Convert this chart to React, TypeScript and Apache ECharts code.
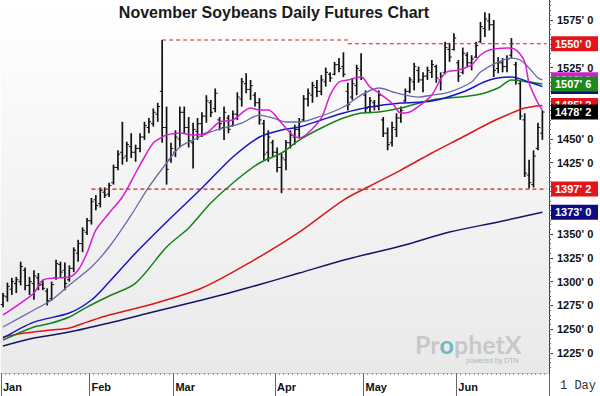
import React, { useEffect, useRef } from 'react';
import * as echarts from 'echarts';

// ---------- data ----------
const monthNames = ['Jan', 'Feb', 'Mar', 'Apr', 'May', 'Jun'];
const monthBars = [20, 19, 23, 20, 21, 20];

const opens = [
  1276, 1284, 1292, 1298, 1300, 1312, 1296, 1298, 1304, 1297, 1290, 1282, 1304, 1318, 1312, 1302, 1314, 1330, 1340, 1352,
  1364, 1386, 1382, 1394, 1392, 1404, 1420, 1436, 1432, 1442, 1436, 1440, 1452, 1462, 1466, 1476, 1500, 1462, 1428,
  1436, 1450, 1478, 1462, 1446, 1458, 1466, 1474, 1488, 1482, 1470, 1462, 1472, 1464, 1476, 1492, 1508, 1502, 1496, 1488, 1466, 1436, 1446,
  1436, 1420, 1428, 1446, 1452, 1460, 1470, 1492, 1496, 1504, 1500, 1510, 1518, 1518, 1528, 1526, 1500, 1494, 1506, 1522,
  1496, 1484, 1488, 1484, 1470, 1456, 1446, 1460, 1472, 1490, 1500, 1510, 1522, 1512, 1516, 1520, 1526, 1512, 1520, 1544, 1544,
  1530, 1520, 1538, 1530, 1536, 1552, 1566, 1574, 1570, 1524, 1530, 1526, 1538, 1528, 1508, 1470, 1412, 1402, 1440, 1456,
];
const highs = [
  1288, 1299, 1304, 1305, 1321, 1315, 1305, 1312, 1309, 1302, 1293, 1300, 1323, 1321, 1320, 1317, 1336, 1344, 1357, 1367,
  1388, 1391, 1399, 1399, 1404, 1423, 1438, 1468, 1447, 1456, 1444, 1456, 1468, 1472, 1482, 1488, 1554, 1484, 1446,
  1459, 1484, 1484, 1473, 1467, 1472, 1478, 1496, 1491, 1503, 1473, 1484, 1475, 1480, 1499, 1514, 1519, 1512, 1499, 1493, 1470, 1459, 1449,
  1441, 1435, 1449, 1459, 1465, 1472, 1496, 1503, 1510, 1512, 1517, 1525, 1520, 1531, 1535, 1541, 1509, 1514, 1528, 1540,
  1501, 1494, 1491, 1501, 1473, 1462, 1468, 1477, 1484, 1503, 1515, 1530, 1526, 1520, 1526, 1533, 1528, 1520, 1552, 1551, 1561,
  1533, 1546, 1541, 1538, 1552, 1573, 1583, 1582, 1575, 1536, 1535, 1538, 1556, 1531, 1512, 1477, 1428, 1438, 1467, 1480,
];
const lows = [
  1273, 1279, 1286, 1288, 1296, 1291, 1286, 1281, 1291, 1291, 1275, 1280, 1302, 1304, 1291, 1300, 1310, 1321, 1331, 1349,
  1360, 1375, 1378, 1388, 1389, 1402, 1417, 1423, 1426, 1430, 1426, 1436, 1449, 1456, 1463, 1468, 1446, 1402, 1425,
  1431, 1441, 1456, 1441, 1419, 1449, 1452, 1467, 1473, 1478, 1459, 1449, 1456, 1463, 1470, 1484, 1498, 1491, 1484, 1465, 1428, 1426, 1431,
  1415, 1393, 1417, 1440, 1444, 1451, 1468, 1484, 1488, 1494, 1496, 1505, 1510, 1517, 1520, 1515, 1480, 1491, 1496, 1512,
  1477, 1477, 1480, 1480, 1452, 1438, 1442, 1452, 1467, 1489, 1498, 1501, 1509, 1499, 1512, 1514, 1509, 1501, 1518, 1531, 1543,
  1510, 1518, 1526, 1522, 1535, 1551, 1557, 1564, 1515, 1519, 1520, 1520, 1535, 1507, 1470, 1410, 1398, 1399, 1438, 1449,
];
const closes = [
  1285, 1295, 1300, 1302, 1316, 1296, 1300, 1306, 1296, 1293, 1280, 1297, 1319, 1310, 1298, 1314, 1333, 1340, 1354, 1364,
  1384, 1380, 1396, 1391, 1401, 1420, 1434, 1430, 1444, 1436, 1440, 1452, 1464, 1468, 1478, 1484, 1462, 1418, 1440,
  1452, 1478, 1462, 1448, 1460, 1466, 1474, 1490, 1478, 1498, 1466, 1478, 1460, 1476, 1494, 1510, 1502, 1506, 1488, 1470, 1434, 1452, 1436,
  1420, 1430, 1446, 1454, 1460, 1468, 1492, 1498, 1506, 1500, 1512, 1520, 1514, 1528, 1524, 1518, 1486, 1508, 1524, 1514,
  1482, 1490, 1484, 1496, 1456, 1444, 1462, 1472, 1480, 1500, 1512, 1526, 1512, 1516, 1522, 1528, 1514, 1516, 1546, 1536, 1556,
  1516, 1540, 1530, 1534, 1548, 1568, 1576, 1570, 1522, 1530, 1526, 1534, 1550, 1512, 1474, 1414, 1404, 1432, 1462, 1478.25,
];

// moving averages: [bar index, price]
const maFast: [number, number][] = [
  [0, 1265], [4, 1277.5], [7, 1288], [9, 1301.7], [12, 1303.8], [15, 1304.8], [17, 1312.2], [19, 1330.1], [21, 1354.2],
  [24, 1372.1], [27, 1389], [30, 1414.2], [32, 1431], [34, 1445.7], [36, 1452], [37, 1454.1], [40, 1456.2], [43, 1454.1],
  [46, 1456.2], [49, 1467.8], [52, 1469.9], [56, 1482.5], [58, 1480.4], [60, 1480.4], [63, 1466.7], [65, 1456.2], [67, 1451],
  [69, 1456.2], [72, 1472], [74, 1496.1], [76, 1509.8], [78, 1511.9], [81, 1515.1], [83, 1504.6], [85, 1498.3], [88, 1487.7],
  [90, 1477.2], [92, 1478.3], [95, 1487.7], [97, 1496.1], [100, 1519.3], [103, 1522.4], [106, 1527.7], [108, 1538.2],
  [110, 1543.5], [114, 1545.6], [116, 1543.5], [118, 1530.8], [119, 1508.8], [121, 1487.7], [122, 1480.4],
];
const maSlate: [number, number][] = [
  [0, 1252.3], [7, 1270.2], [11, 1280.7], [15, 1296.5], [20, 1315.4], [24, 1336.4], [29, 1370], [33, 1399.5], [37, 1424.7],
  [40, 1441.5], [43, 1448.8], [47, 1457.3], [54, 1466.7], [58, 1475.1], [61, 1472], [64, 1467.8], [67, 1467.8], [72, 1474.1],
  [77, 1483.5], [81, 1496.1], [85, 1503.5], [89, 1498.3], [94, 1494], [97, 1496.1], [101, 1499.3], [106, 1509.8],
  [108, 1520.3], [112, 1530.8], [115, 1535], [117, 1532.9], [119, 1524.5], [121, 1514], [122, 1512.1],
];
const maBlue: [number, number][] = [
  [0, 1240.7], [7, 1257.5], [15, 1267], [20, 1280.7], [24, 1299.6], [30, 1330.1], [37, 1362.7], [45, 1398.4], [52, 1431],
  [58, 1452], [63, 1459.4], [67, 1462.5], [72, 1469.9], [77, 1477.2], [83, 1483.5], [90, 1487.7], [97, 1489.8], [104, 1499.3],
  [110, 1511.9], [115, 1515], [119, 1509.8], [122, 1505],
];
const maGreen: [number, number][] = [
  [0, 1238.6], [7, 1252.3], [11, 1256.5], [15, 1262.8], [19, 1273.3], [24, 1284.9], [30, 1298.5], [37, 1336.4], [42, 1356.4],
  [47, 1382.6], [52, 1403.7], [58, 1424.7], [63, 1435.2], [67, 1448.8], [72, 1461.5], [77, 1472], [81, 1477.2], [85, 1478.3],
  [90, 1482.5], [97, 1490.9], [107, 1496.1], [112, 1503.5], [115, 1511.9], [119, 1509.8], [122, 1507.75],
];
const maRed: [number, number][] = [
  [0, 1241.8], [5, 1246], [11, 1249.1], [15, 1251.2], [19, 1257.5], [24, 1264.9], [33, 1275.4], [45, 1293.3], [56, 1320.6],
  [67, 1352.1], [77, 1385.8], [83, 1400.5], [90, 1417.3], [97, 1435.2], [104, 1452], [110, 1466.7], [114, 1475.1],
  [118, 1482.5], [122, 1485.25],
];
const maNavy: [number, number][] = [
  [0, 1232.3], [7, 1240.7], [15, 1247], [24, 1256.5], [33, 1267], [45, 1280.7], [56, 1294.3], [67, 1309], [78, 1323.8],
  [90, 1337.4], [101, 1352.2], [112, 1362.7], [122, 1373],
];

// ticks every 25 cents; labels only where the reference shows them (others sit under value boxes)
const yTicks = [1225, 1250, 1275, 1300, 1325, 1350, 1375, 1400, 1425, 1450, 1475, 1500, 1525, 1550, 1575];
const yLabelTicks = [1225, 1250, 1275, 1300, 1325, 1350, 1425, 1450, 1525, 1575];
const yMin = 1204;
const yMax = 1596;

// dashed support / resistance lines: [start bar, end bar, price]
const spikeLine = [36, 78, 1554];
const resistanceLine = [78, 123, 1550];
const supportLine = [20, 123, 1397.25];

const boxValues = [1550, 1397.25, 1373, 1512.125, 1505, 1507.75, 1485.25, 1478.25];
const boxColors = ['#e3141c', '#e3141c', '#0c0c82', '#d21fd2', '#10107a', '#1e8a1e', '#e3141c', '#000000'];

const fmtPrice = (v: number) => {
  const w = Math.floor(v + 1e-9);
  const e = Math.round((v - w) * 8);
  return `${w}' ${e}`;
};

export default function App() {
  const ref = useRef<HTMLDivElement>(null);

  useEffect(() => {
    if (!ref.current) return;
    const chart = echarts.init(ref.current, null, { renderer: 'svg' });

    const categories: string[] = [];
    const monthStarts: number[] = [];
    monthBars.forEach((n, m) => {
      monthStarts.push(categories.length);
      for (let k = 0; k < n; k++) categories.push(`${monthNames[m]} ${k + 1}`);
    });
    categories.push(''); // one empty slot at the right
    const startSet = new Set(monthStarts);

    const minorTicks: number[] = [];
    for (let v = 1210; v < yMax; v += 5) minorTicks.push(v);

    const ohlc = opens.map((o, i) => [i, o, highs[i], lows[i], closes[i]]);

    const font = 'Liberation Sans';

    const maSeries = (data: [number, number][], color: string, width: number) => ({
      type: 'line',
      data,
      symbol: 'none',
      showSymbol: false,
      smooth: 0.3,
      lineStyle: { color, width },
      z: 3,
      silent: true,
    });

    const dashSeries = (seg: number[]) => ({
      type: 'line',
      data: [
        [seg[0], seg[2]],
        [seg[1], seg[2]],
      ],
      symbol: 'none',
      silent: true,
      z: 4,
      lineStyle: { color: '#d41e1e', width: 1.1, type: [4, 3] },
    });

    const markData: any[] = boxValues.map((v, k) => ({
      yAxis: v,
      lineStyle: { color: 'rgba(0,0,0,0)', width: 0 },
      label: {
        show: true,
        position: 'end',
        distance: 2,
        formatter: fmtPrice(v),
        backgroundColor: boxColors[k],
        color: '#ffffff',
        fontFamily: font,
        fontWeight: 'bold',
        fontSize: 11,
        width: 39,
        padding: [2, 4, 1, 4],
        lineHeight: 12,
      },
    }));

    const option: any = {
      animation: false,
      backgroundColor: '#ffffff',
      grid: {
        left: 0,
        right: 51,
        top: 0,
        bottom: 23,
        show: true,
        borderWidth: 0,
        backgroundColor: new echarts.graphic.LinearGradient(0, 0, 0, 1, [
          { offset: 0, color: '#ffffff' },
          { offset: 1, color: '#e9e9e9' },
        ]),
      },
      xAxis: [
        {
          type: 'category',
          data: categories,
          boundaryGap: true,
          axisLine: { show: true, lineStyle: { color: '#c4c4c4' } },
          axisTick: { show: true, interval: 0, length: 2, lineStyle: { color: '#9a9a9a' } },
          axisLabel: { show: false },
          splitLine: { show: false },
        },
        {
          type: 'category',
          data: categories,
          boundaryGap: true,
          position: 'bottom',
          axisLine: { show: false },
          axisTick: {
            show: true,
            interval: (index: number) => startSet.has(index),
            length: 23,
            lineStyle: { color: '#666666' },
          },
          axisLabel: {
            show: true,
            interval: (index: number) => startSet.has(index),
            formatter: (value: string) => value.split(' ')[0],
            align: 'left',
            margin: 8,
            fontFamily: font,
            fontWeight: 'bold',
            fontSize: 11,
            color: '#111111',
          },
          splitLine: { show: false },
        },
      ],
      yAxis: [
        {
          type: 'value',
          position: 'right',
          min: yMin,
          max: yMax,
          scale: true,
          splitLine: { show: false },
          axisLine: { show: true, onZero: false, lineStyle: { color: '#444444' } },
          axisTick: { show: true, customValues: yTicks, length: 4, lineStyle: { color: '#444444' } },
          axisLabel: {
            customValues: yLabelTicks,
            formatter: (v: number) => fmtPrice(v),
            margin: 8,
            fontFamily: font,
            fontWeight: 'bold',
            fontSize: 11,
            color: '#111111',
          },
        },
        {
          type: 'value',
          position: 'right',
          min: yMin,
          max: yMax,
          scale: true,
          splitLine: { show: false },
          axisLine: { show: false },
          axisLabel: { show: false },
          axisTick: { show: true, customValues: minorTicks, length: 2, lineStyle: { color: '#666666' } },
        },
      ],
      series: [
        {
          type: 'custom',
          data: ohlc,
          encode: { x: 0, y: [1, 2, 3, 4] },
          z: 2,
          silent: true,
          renderItem: (_params: any, api: any) => {
            const i = api.value(0);
            const pO = api.coord([i, api.value(1)]);
            const pH = api.coord([i, api.value(2)]);
            const pL = api.coord([i, api.value(3)]);
            const pC = api.coord([i, api.value(4)]);
            const c = '#111111';
            return {
              type: 'group',
              children: [
                { type: 'line', shape: { x1: pH[0], y1: pH[1], x2: pL[0], y2: pL[1] }, style: { stroke: c, lineWidth: 1.7 } },
                { type: 'line', shape: { x1: pO[0] - 2.3, y1: pO[1], x2: pO[0], y2: pO[1] }, style: { stroke: c, lineWidth: 1 } },
                { type: 'line', shape: { x1: pC[0], y1: pC[1], x2: pC[0] + 2.3, y2: pC[1] }, style: { stroke: c, lineWidth: 1 } },
              ],
            };
          },
        },
        maSeries(maNavy, '#151565', 1.5),
        maSeries(maRed, '#d81818', 1.5),
        maSeries(maGreen, '#16801a', 1.5),
        maSeries(maBlue, '#1616c8', 1.5),
        maSeries(maSlate, '#6a6aa8', 1.3),
        maSeries(maFast, '#d61ed6', 1.5),
        dashSeries(spikeLine),
        dashSeries(resistanceLine),
        dashSeries(supportLine),
        {
          type: 'line',
          data: [],
          symbol: 'none',
          silent: true,
          z: 5,
          markLine: { symbol: 'none', silent: true, animation: false, data: markData },
        },
      ],
      graphic: [
        {
          type: 'text',
          x: 274,
          y: 4,
          z: 10,
          style: {
            text: 'November Soybeans Daily Futures Chart',
            fontFamily: font,
            fontWeight: 'bold',
            fontSize: 16,
            fill: '#1a1a1a',
            align: 'center',
            verticalAlign: 'top',
          },
        },
        {
          type: 'text',
          x: 415,
          y: 331,
          z: 1,
          style: {
            text: '{a|Pr}{b|o}{a|phetX}',
            rich: {
              a: { fontFamily: 'Lato', fontWeight: 'bold', fontSize: 25, fill: '#c8c8c8', color: '#c8c8c8' },
              b: { fontFamily: 'Lato', fontWeight: 'bold', fontSize: 25, fill: '#6fb6c9', color: '#6fb6c9' },
            },
          },
        },
        {
          type: 'text',
          x: 466,
          y: 357,
          z: 1,
          style: { text: 'powered by DTN', fontFamily: font, fontSize: 7, fill: '#b5b5b5' },
        },
        {
          type: 'line',
          shape: { x1: 549.5, y1: 373, x2: 549.5, y2: 396 },
          style: { stroke: '#666666', lineWidth: 1 },
        },
        {
          type: 'text',
          x: 560,
          y: 380,
          style: { text: '1 Day', fontFamily: 'Liberation Mono', fontSize: 12, fill: '#333333' },
        },
      ],
    };

    chart.setOption(option);
    return () => chart.dispose();
  }, []);

  return (
    <div
      ref={ref}
      style={{ position: 'fixed', left: 0, top: 0, width: 600, height: 396, background: '#ffffff' }}
    />
  );
}
